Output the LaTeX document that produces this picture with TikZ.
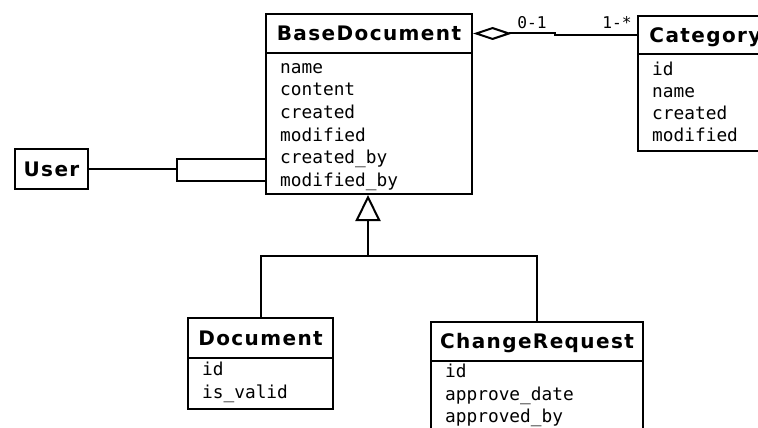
\documentclass[tikz,border=0pt]{standalone}
\usepackage{fontspec}
\newfontfamily\tfont{DejaVu Sans}[LetterSpace=7]
\newfontfamily\mfont{DejaVu Sans Mono}
\usetikzlibrary{arrows.meta}
\tikzset{
  lw/.style={line width=2pt},
  ctitle/.style={draw, lw, fill=white, inner sep=0pt, text height=14.6pt, text depth=0pt,
    font=\tfont\bfseries\fontsize{20}{20}\selectfont, anchor=north west},
  cbody/.style={draw, lw, fill=white, inner sep=0pt, anchor=north west},
  attr/.style={inner sep=0pt, anchor=base west, font=\mfont\fontsize{17.8}{20}\selectfont},
  mult/.style={inner sep=0pt, text height=11.8pt, text depth=0pt, font=\mfont\fontsize{16.2}{16}\selectfont},
}
\begin{document}
\begin{tikzpicture}[x=1pt,y=-1pt]
\useasboundingbox (0,0) rectangle (758,428);
\clip (0,0) rectangle (758,428);
\fill[white] (0,0) rectangle (758,428);

% BaseDocument
\node[ctitle, minimum width=206pt, minimum height=39pt] (bdT) at (265,13) {BaseDocument};
\node[cbody, minimum width=206pt, minimum height=141pt] (bdA) at (265,52) {};
\foreach \t [count=\i from 0] in {name,content,created,modified,created\_by,modified\_by}
  \node[attr] (bd\i) at (280,73.3+22.6*\i) {\t};

% Category
\node[ctitle, minimum width=135pt, minimum height=38pt] (catT) at (637,15) {Category};
\node[cbody, minimum width=135pt, minimum height=97pt] (catA) at (637,53) {};
\foreach \t [count=\i from 0] in {id,name,created,modified}
  \node[attr] (cat\i) at (652,75+22.3*\i) {\t};

% User
\node[ctitle, minimum width=73pt, minimum height=40pt] (user) at (14,148) {User};
\node[cbody, minimum width=89pt, minimum height=22pt] (qual) at (176,158) {};

% Document
\node[ctitle, minimum width=145pt, minimum height=40pt] (docT) at (187,317) {Document};
\node[cbody, minimum width=145pt, minimum height=51pt] (docA) at (187,357) {};
\foreach \t [count=\i from 0] in {id,is\_valid}
  \node[attr] (doc\i) at (202,375+23*\i) {\t};

% ChangeRequest
\node[ctitle, minimum width=212pt, minimum height=38.5pt] (crT) at (430,321) {ChangeRequest};
\node[cbody, minimum width=212pt, minimum height=80pt] (crA) at (430,359.5) {};
\foreach \t [count=\i from 0] in {id,approve\_date,approved\_by}
  \node[attr] (cr\i) at (445,377.5+22.6*\i) {\t};

% connectors
\draw[lw] (user.east) -- (user.east -| qual.west);
\coordinate (jog) at (555,0);
\draw[lw, {Diamond[open,length=39pt,width=13pt]}-] (bdT.east) -- (bdT.east -| jog) -- (catT.west -| jog) -- (catT.west);
\node[mult] (m01) at (532,23) {0-1};
\node[mult] (m1s) at (617,23) {1-*};

\coordinate (j) at (368,256);
\draw[lw, -{Triangle[open,length=26pt,width=25pt]}] (j) -- (bdA.south -| j);
\draw[lw] (docT.north) |- (j) -| (crT.north);
\end{tikzpicture}
\end{document}
